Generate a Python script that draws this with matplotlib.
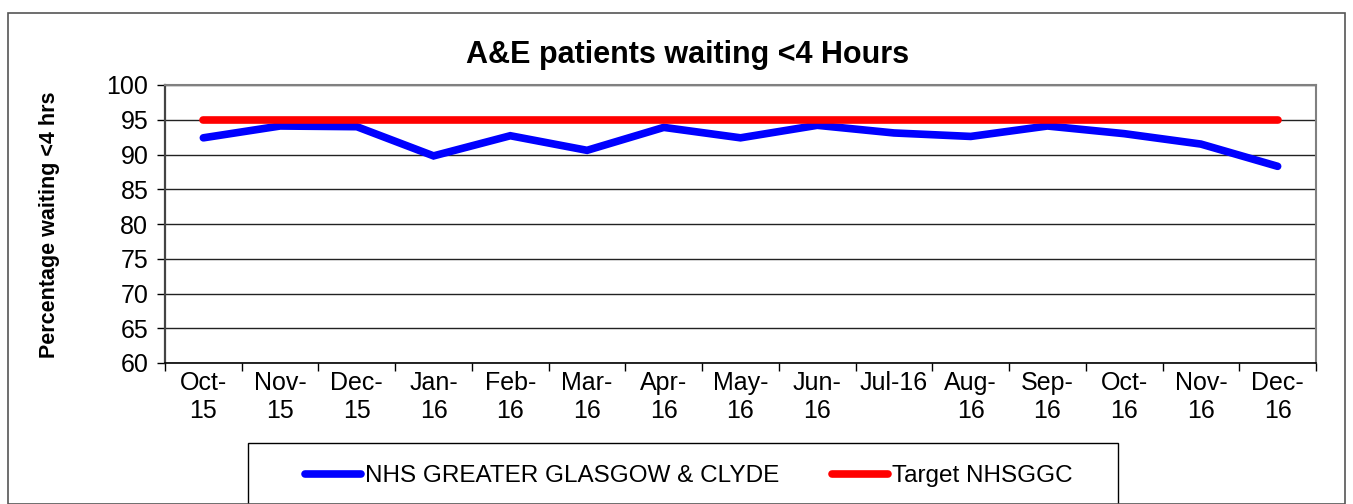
import matplotlib
matplotlib.use("Agg")
import matplotlib.pyplot as plt
from matplotlib.patches import Rectangle

plt.rcParams['font.family'] = ['Liberation Sans', 'DejaVu Sans']

categories = ["Oct-\n15", "Nov-\n15", "Dec-\n15", "Jan-\n16", "Feb-\n16", "Mar-\n16", "Apr-\n16",
              "May-\n16", "Jun-\n16", "Jul-16\n", "Aug-\n16", "Sep-\n16", "Oct-\n16", "Nov-\n16", "Dec-\n16"]
nhs_ggc = [92.4, 94.1, 94.0, 89.8, 92.7, 90.6, 93.9, 92.4, 94.2, 93.1, 92.6, 94.1, 93.0, 91.5, 88.3]
target = [95] * len(categories)
yticks = [60, 65, 70, 75, 80, 85, 90, 95, 100]

W, H = 1353, 504
fig = plt.figure(figsize=(W / 100, H / 100), dpi=100)
ax = fig.add_axes([165 / W, 1 - 363 / H, (1316 - 165) / W, (363 - 85) / H])

x = list(range(len(categories)))
l1, = ax.plot(x, nhs_ggc, color="#0000FF", lw=5.5, solid_capstyle="round", solid_joinstyle="miter",
              label="NHS GREATER GLASGOW & CLYDE", zorder=3)
l2, = ax.plot(x, target, color="#FF0000", lw=5.5, solid_capstyle="round",
              label="Target NHSGGC", zorder=4)

ax.set_ylim(60, 100)
ax.set_yticks(yticks)
ax.set_yticklabels([str(v) for v in yticks], fontsize=18)
ax.set_xlim(-0.5, len(categories) - 0.5)
ax.set_xticks([i - 0.5 for i in range(len(categories) + 1)])
ax.set_xticklabels([])
ax.set_xticks(x, minor=True)
ax.set_xticklabels(categories, minor=True, fontsize=18, linespacing=1.2, va="top")
ax.tick_params(axis="x", which="minor", length=0, pad=6)
ax.tick_params(axis="x", which="major", length=6, width=1, color="black", direction="out")
ax.tick_params(axis="y", length=6, width=1, color="black", direction="out", pad=6)
ax.grid(axis="y", color="#222222", lw=1)
ax.set_axisbelow(True)
for s in ["top", "right"]:
    ax.spines[s].set_color("#808080")
    ax.spines[s].set_linewidth(1.5)
ax.spines["left"].set_color("#444444")
ax.spines["left"].set_linewidth(1.6)
ax.spines["bottom"].set_color("black")
ax.spines["bottom"].set_linewidth(1.2)

fig.text(688 / W, 1 - 55 / H, "A&E patients waiting <4 Hours", ha="center", va="center",
         fontsize=22, fontweight="bold")
fig.text(50 / W, 1 - 225 / H, "Percentage waiting <4 hrs", ha="center", va="center",
         rotation=90, fontsize=15.5, fontweight="bold")

leg = fig.legend(handles=[l1, l2], loc="center left", bbox_to_anchor=(305 / W, 1 - 476 / H),
                 ncol=2, frameon=False, fontsize=17.5, handlelength=2.3,
                 handletextpad=0.15, columnspacing=2.2, borderpad=0, borderaxespad=0)

fig.patches.append(Rectangle((248 / W, -0.05), (1118 - 248) / W, 0.05 + 1 - 443 / H,
                             transform=fig.transFigure, fill=False, edgecolor="black", lw=1.0))
fig.patches.append(Rectangle((8 / W, 0.0), (1345 - 8) / W, 1 - 13 / H, transform=fig.transFigure,
                             fill=False, edgecolor="#555555", lw=1.2))

fig.savefig("out.png", dpi=100)
